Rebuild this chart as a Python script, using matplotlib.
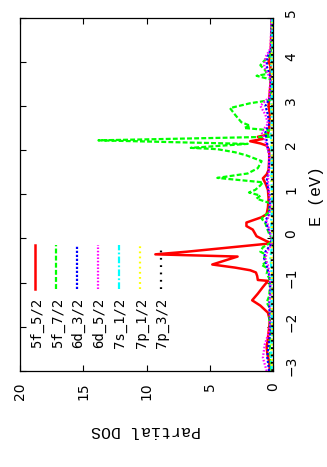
import matplotlib
matplotlib.use("Agg")
import matplotlib.pyplot as plt
from matplotlib.transforms import ScaledTranslation

# partial DOS per orbital, energies in eV
red_E = [-3.0, -2.8, -2.6, -2.45, -2.25, -2.0, -1.85, -1.68, -1.52, -1.4, -1.25, -1.1, -0.96, -0.94,
         -0.85, -0.77, -0.72, -0.66, -0.59, -0.41, -0.36, -0.3, -0.11, -0.05, 0.05, 0.2, 0.28, 0.36,
         0.42, 0.48, 0.55, 0.7, 0.9, 1.1, 1.25, 1.36, 1.45, 1.55, 1.8, 2.0, 2.1, 2.15, 2.2, 2.25,
         2.3, 2.35, 2.5, 2.8, 3.0, 3.5, 3.9, 4.0, 4.1, 4.5, 5.0]
red_dos = [0.25, 0.3, 0.45, 0.5, 0.4, 0.3, 0.25, 0.4, 1.0, 1.65, 1.2, 0.8, 0.4, 1.2,
           1.25, 1.35, 1.8, 3.0, 4.8, 2.8, 9.3, 6.8, 0.1, 0.6, 1.3, 1.6, 2.1, 2.1,
           1.5, 0.9, 0.5, 0.4, 0.35, 0.4, 0.6, 0.8, 0.5, 0.35, 0.3, 0.3, 0.5, 1.0, 1.8, 0.8,
           1.2, 0.4, 0.3, 0.25, 0.35, 0.2, 0.2, 0.35, 0.2, 0.15, 0.1]

green_E = [-3.0, -2.7, -2.4, -2.1, -1.8, -1.6, -1.45, -1.3, -1.1, -0.9, -0.8, -0.68, -0.6, -0.55,
           -0.5, -0.43, -0.36, -0.3, -0.2, -0.1, 0.0, 0.1, 0.25, 0.34, 0.45, 0.5, 0.6, 0.8, 0.9,
           0.97, 1.04, 1.1, 1.2, 1.27, 1.37, 1.47, 1.59, 1.75, 1.88, 1.95, 2.02, 2.05, 2.14, 2.17,
           2.22, 2.3, 2.38, 2.45, 2.5, 2.55, 2.63, 2.8, 2.95, 3.06, 3.13, 3.4, 3.6, 3.68, 3.72,
           3.8, 3.92, 4.05, 4.15, 4.3, 4.6, 5.0]
green_dos = [0.15, 0.2, 0.25, 0.2, 0.3, 0.2, 0.5, 0.3, 0.25, 0.3, 0.5, 0.4, 0.9, 0.6,
             0.5, 0.7, 0.6, 1.0, 0.8, 0.2, 0.1, 0.3, 0.5, 0.6, 0.9, 0.7, 0.3, 0.25, 1.3,
             1.0, 1.9, 1.4, 1.0, 0.8, 4.4, 2.0, 1.2, 0.9, 2.1, 3.0, 4.4, 6.5, 2.0, 6.6,
             13.8, 0.2, 0.6, 0.3, 2.3, 1.8, 2.5, 3.0, 3.4, 1.8, 0.2, 0.15, 0.2, 1.3, 0.5,
             0.6, 1.0, 0.6, 0.2, 0.15, 0.15, 0.1]

small_E = [-3.0, -2.7, -2.4, -2.1, -1.8, -1.5, -1.2, -0.9, -0.6, -0.45, -0.3, -0.15, 0.0, 0.2,
           0.4, 0.55, 0.8, 1.0, 1.3, 1.6, 1.9, 2.2, 2.4, 2.6, 2.8, 3.0, 3.2, 3.6, 3.9, 4.1,
           4.3, 4.7, 5.0]
blue_dos = [0.3, 0.45, 0.35, 0.2, 0.25, 0.3, 0.2, 0.25, 0.5, 0.7, 0.6, 0.2, 0.1, 0.35,
            0.6, 0.3, 0.25, 0.3, 0.5, 0.3, 0.3, 0.5, 0.6, 0.3, 0.4, 0.6, 0.2, 0.15, 0.5, 0.45,
            0.15, 0.1, 0.1]
magenta_dos = [0.5, 0.8, 0.65, 0.3, 0.2, 0.25, 0.2, 0.2, 0.4, 0.6, 0.45, 0.15, 0.1, 0.3,
               0.5, 0.25, 0.2, 0.3, 0.4, 0.3, 0.3, 0.6, 0.9, 0.4, 0.6, 1.0, 0.3, 0.2, 0.7, 0.6,
               0.2, 0.15, 0.15]
cyan_dos = [0.1, 0.15, 0.12, 0.08, 0.1, 0.12, 0.1, 0.1, 0.15, 0.2, 0.15, 0.05, 0.05, 0.1,
            0.15, 0.1, 0.08, 0.1, 0.12, 0.1, 0.1, 0.15, 0.2, 0.1, 0.12, 0.15, 0.08, 0.06, 0.15, 0.12,
            0.06, 0.05, 0.05]
yellow_dos = [0.08, 0.1, 0.1, 0.06, 0.08, 0.08, 0.06, 0.08, 0.1, 0.12, 0.1, 0.04, 0.04, 0.08,
              0.1, 0.08, 0.06, 0.08, 0.1, 0.08, 0.08, 0.1, 0.12, 0.08, 0.1, 0.1, 0.06, 0.05, 0.1, 0.1,
              0.05, 0.04, 0.04]
black_dos = [0.05, 0.08, 0.07, 0.05, 0.06, 0.06, 0.05, 0.06, 0.08, 0.1, 0.08, 0.03, 0.03, 0.06,
             0.08, 0.06, 0.05, 0.06, 0.08, 0.06, 0.06, 0.08, 0.1, 0.06, 0.08, 0.08, 0.05, 0.04, 0.08, 0.08,
             0.04, 0.03, 0.03]

labels = ["5f_5/2", "5f_7/2", "6d_3/2", "6d_5/2", "7s_1/2", "7p_1/2", "7p_3/2"]
x_ticks = [0, 5, 10, 15, 20]
e_ticks = [-3, -2, -1, 0, 1, 2, 3, 4, 5]

series = [
    (red_E, red_dos, "#ff0000", 1.8, "-"),
    (green_E, green_dos, "#00ff00", 1.6, (0, (2.2, 1.0))),
    (small_E, blue_dos, "#0000ff", 1.6, (0, (1.0, 0.8))),
    (small_E, magenta_dos, "#ff00ff", 1.6, (0, (0.7, 0.8))),
    (small_E, cyan_dos, "#00ffff", 1.6, (0, (3.0, 1.0, 0.8, 1.0))),
    (small_E, yellow_dos, "#ffff00", 1.6, (0, (0.8, 1.5))),
    (small_E, black_dos, "#000000", 1.6, (0, (0.8, 2.5))),
]

fig = plt.figure(figsize=(3.27, 4.67), dpi=100)
ax = fig.add_axes([20 / 327, 1 - 371 / 467, 253 / 327, 353.5 / 467])

for E, dos, col, lw, ls in series:
    ax.plot(dos, E, color=col, lw=lw, linestyle=ls)

ax.set_xlim(20, 0)
ax.set_ylim(-3, 5)
ax.set_xticks(x_ticks)
ax.set_yticks(e_ticks)
ax.tick_params(direction="in", top=True, right=True, left=True, bottom=True,
               labelleft=False, labelright=True, length=4, width=0.8,
               labelsize=10, pad=8)
for lab in ax.get_xticklabels():
    lab.set_rotation(90)
for lab in ax.get_yticklabels():
    lab.set_rotation(90)
    lab.set_va("center")
    lab.set_transform(lab.get_transform() + ScaledTranslation(0, 0.05, fig.dpi_scale_trans))
for sp in ax.spines.values():
    sp.set_linewidth(0.9)

# key drawn by hand, rotated like the rest of the page
for i, (lab, (E, dos, col, lw, ls)) in enumerate(zip(labels, series)):
    xa = (15 + 21 * i) / 253
    ax.plot([xa, xa], [0.232, 0.356], color=col, lw=lw, linestyle=ls, transform=ax.transAxes)
    ax.text(xa + 1.5 / 253, 0.207, lab, rotation=90, ha="center", va="top",
            family="DejaVu Sans Mono", fontsize=10, transform=ax.transAxes)

fig.text(146 / 327, 1 - 430 / 467, "Partial DOS", rotation=180, ha="center", va="center",
         family="Liberation Mono", fontsize=12)
fig.text(317 / 327, 1 - 196 / 467, "E (eV)", rotation=90, ha="center", va="center",
         family="Liberation Mono", fontsize=12)

fig.savefig("out.png", dpi=100)
